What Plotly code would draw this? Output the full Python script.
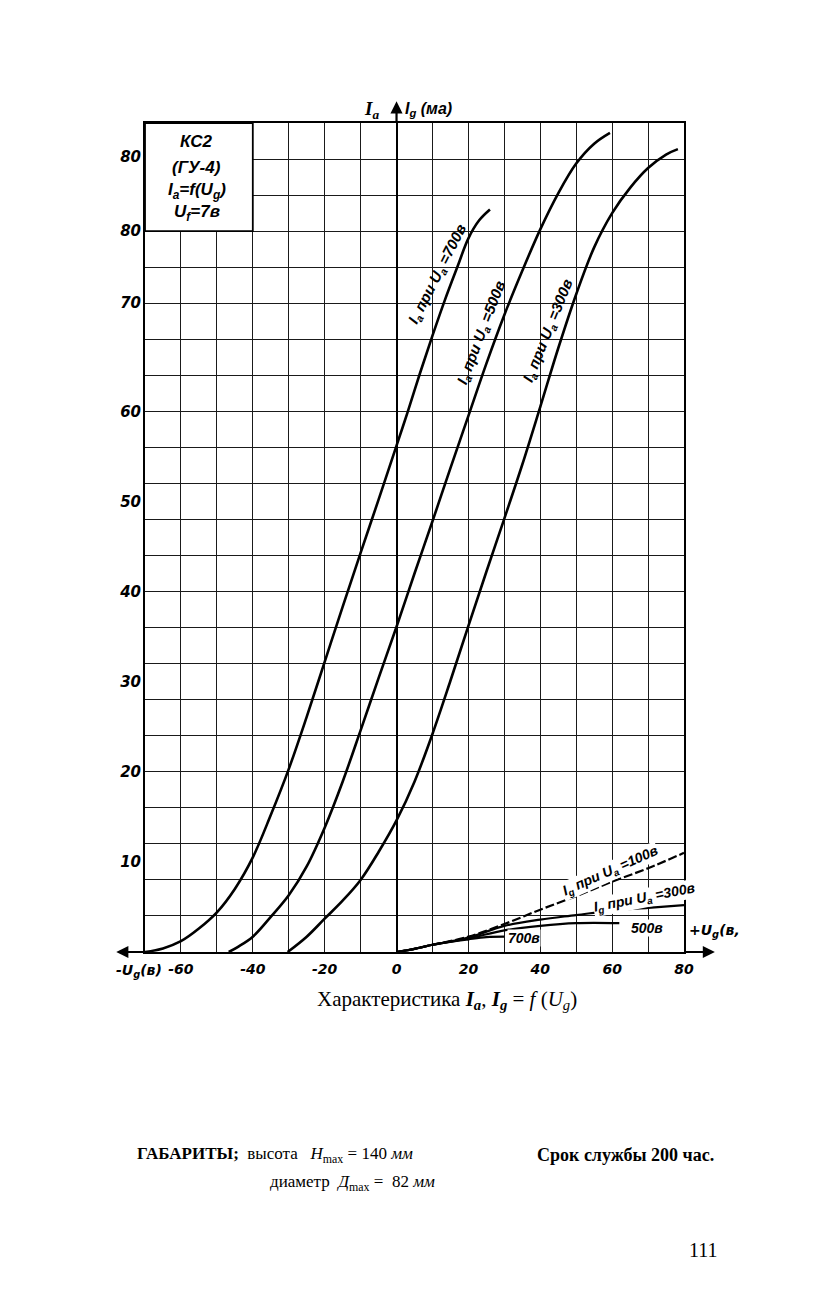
import plotly.graph_objects as go

# ---------------- data ----------------
ia700_x = [-70, -65, -60, -55, -50, -45, -40, -35, -30, -25, -20, -15, -10, -5, 0,
           3, 6.5, 10, 13.5, 17, 20, 23, 26]
ia700_y = [0, 0.4, 1.2, 2.6, 4.4, 7.0, 10.5, 15.2, 20.3, 26.1, 32.2, 38.3, 44.3, 50.2, 56.2,
           59.8, 64.2, 68.4, 72.4, 76.1, 79.2, 81.2, 82.4]

ia500_x = [-46.7, -44, -40, -35, -30, -25, -20, -15, -10, -5, 0, 5, 10, 15, 20,
           25, 30, 35, 40, 45, 50, 55, 59.4]
ia500_y = [0, 0.6, 1.7, 3.9, 6.3, 9.5, 13.8, 18.9, 24.6, 30.4, 36.1, 42.0, 47.8, 53.7, 59.5,
           65.3, 70.7, 75.6, 80.2, 84.2, 87.5, 89.7, 90.9]

ia300_x = [-30.3, -25, -20, -15, -10, -5, 0, 5, 10, 15, 20, 25, 30, 35, 40,
           45, 50, 55, 60, 65, 70, 75, 78.3]
ia300_y = [0, 1.7, 3.7, 5.7, 8.0, 11.1, 14.6, 18.9, 24.2, 30.1, 36.2, 42.2, 48.1, 54.1, 60.5,
           67.0, 73.0, 78.2, 82.0, 84.8, 87.0, 88.5, 89.1]

ig100_x = [0, 5, 10, 20, 30, 40, 50, 60, 70, 80]
ig100_y = [0, 0.35, 0.8, 1.7, 3.1, 4.7, 6.2, 7.8, 9.3, 11]
ig300_x = [0, 5, 10, 20, 30, 40, 50, 60, 70, 80]
ig300_y = [0, 0.35, 0.8, 1.6, 2.9, 3.6, 4.1, 4.6, 4.9, 5.2]
ig500_x = [0, 5, 10, 20, 30, 40, 50, 62]
ig500_y = [0, 0.35, 0.8, 1.5, 2.4, 2.9, 3.2, 3.2]
ig700_x = [0, 5, 10, 20, 25, 30]
ig700_y = [0, 0.35, 0.8, 1.4, 1.65, 1.7]

x_tickvals = [-60, -40, -20, 0, 20, 40, 60, 80]
x_ticktext = ["-60", "-40", "-20", "0", "20", "40", "60", "80"]
y_tickvals = [88.2, 80, 72, 60, 50, 40, 30, 20, 10]
y_ticktext = ["80", "80", "70", "60", "50", "40", "30", "20", "10"]

X_RANGE = [-70, 80]
Y_RANGE = [0, 92]

SANS = "DejaVu Sans"
SERIF = "Liberation Serif"
BI = dict(family=SANS, size=15, color="black", weight="bold", style="italic")

fig = go.Figure()

curve = dict(color="black", width=2.6, shape="spline", smoothing=1.0)
for xs, ys in [(ia700_x, ia700_y), (ia500_x, ia500_y), (ia300_x, ia300_y)]:
    fig.add_trace(go.Scatter(x=xs, y=ys, mode="lines", line=curve, hoverinfo="skip"))

fig.add_trace(go.Scatter(x=ig100_x, y=ig100_y, mode="lines",
                         line=dict(color="black", width=2.2, dash="9px,3px", shape="spline"),
                         hoverinfo="skip"))
for xs, ys in [(ig300_x, ig300_y), (ig500_x, ig500_y), (ig700_x, ig700_y)]:
    fig.add_trace(go.Scatter(x=xs, y=ys, mode="lines",
                             line=dict(color="black", width=2.2, shape="spline"),
                             hoverinfo="skip"))

# dummy trace carrying the labelled overlay axes
fig.add_trace(go.Scatter(x=[None], y=[None], xaxis="x2", yaxis="y2",
                         showlegend=False, hoverinfo="skip"))

grid = dict(showgrid=True, gridcolor="#1a1a1a", gridwidth=1.3)
fig.update_layout(
    width=827, height=1291,
    margin=dict(l=137, r=151, t=115, b=347),
    paper_bgcolor="white", plot_bgcolor="white",
    showlegend=False,
    xaxis=dict(range=X_RANGE, tickmode="linear", tick0=0, dtick=10, showticklabels=False,
               ticks="", zeroline=True, zerolinecolor="black", zerolinewidth=2.4,
               showline=True, linecolor="black", linewidth=2, mirror=True, **grid),
    yaxis=dict(range=Y_RANGE, tickmode="linear", tick0=0, dtick=4, showticklabels=False,
               ticks="", zeroline=False,
               showline=True, linecolor="black", linewidth=2, mirror=True, **grid),
    xaxis2=dict(range=X_RANGE, overlaying="x", anchor="y2", side="bottom",
                tickmode="array", tickvals=x_tickvals, ticktext=x_ticktext,
                showgrid=False, zeroline=False, showline=False, ticks="",
                ticklabelstandoff=7, tickfont=dict(BI, size=14)),
    yaxis2=dict(range=Y_RANGE, overlaying="y", anchor="x2", side="left",
                tickmode="array", tickvals=y_tickvals, ticktext=y_ticktext,
                showgrid=False, zeroline=False, showline=False, ticks="",
                ticklabelstandoff=3, tickfont=BI),
)

# inset title box
fig.add_shape(type="rect", x0=-70, x1=-40, y0=80, y1=92, xref="x", yref="y",
              fillcolor="white", line=dict(color="black", width=1.8), layer="above")
inset_font = dict(family="Liberation Sans", size=17, color="black", weight="bold", style="italic")
inset = [("КС2", 89.9), ("(ГУ-4)", 87.1),
         ("I<sub>a</sub>=f(U<sub>g</sub>)", 84.4), ("U<sub>f</sub>=7в", 82.0)]
for txt, yy in inset:
    fig.add_annotation(x=-55.6, y=yy, text=txt, showarrow=False, font=inset_font,
                       xanchor="center", yanchor="middle")

# axis arrows
arr = dict(showarrow=True, arrowhead=2, arrowsize=1.1, arrowwidth=2.2, arrowcolor="black",
           text="", axref="x", ayref="y", xref="x", yref="y")
fig.add_annotation(x=-78, y=0, ax=-70, ay=0, **arr)
fig.add_annotation(x=88.6, y=0, ax=80, ay=0, **arr)
fig.add_annotation(x=0, y=94.4, ax=0, ay=92, **arr)

# axis names (paper coordinates relative to the plot area)
fig.add_annotation(xref="paper", yref="paper", x=0.421, y=1.0157,
                   text="<i>I<sub>a</sub></i>", showarrow=False,
                   font=dict(family=SERIF, size=19, color="black", weight="bold"),
                   xanchor="center", yanchor="middle")
fig.add_annotation(xref="paper", yref="paper", x=0.478, y=1.0157,
                   text="<i>I<sub>g</sub> (ма)</i>", showarrow=False,
                   font=dict(family="Liberation Sans", size=16, color="black", weight="bold"),
                   xanchor="left", yanchor="middle")
fig.add_annotation(xref="paper", yref="paper", x=0.036, y=-0.0225,
                   text="-<i>U<sub>g</sub></i>(в)", showarrow=False,
                   font=dict(BI, size=14), xanchor="right", yanchor="middle")
fig.add_annotation(xref="paper", yref="paper", x=1.008, y=0.025,
                   text="+<i>U<sub>g</sub></i>(в,", showarrow=False,
                   font=dict(BI, size=14), xanchor="left", yanchor="middle",
                   bgcolor="white", borderpad=0)

# curve labels
lab = dict(family="Liberation Sans", size=15, color="black", weight="bold", style="italic")
for txt, xx, yy, ang in [
    ("I<sub>a</sub> при U<sub>a</sub> =700в", 11.4, 75.2, -63),
    ("I<sub>a</sub> при U<sub>a</sub> =500в", 23.6, 68.8, -69),
    ("I<sub>a</sub> при U<sub>a</sub> =300в", 42.2, 69.0, -68),
]:
    fig.add_annotation(x=xx, y=yy, text=txt, textangle=ang, showarrow=False, font=lab,
                       xanchor="center", yanchor="middle")
for txt, xx, yy, ang in [
    ("I<sub>g</sub> при U<sub>a</sub> =100в", 59.6, 9.0, -24),
    ("I<sub>g</sub> при U<sub>a</sub> =300в", 69.0, 6.0, -11),
]:
    fig.add_annotation(x=xx, y=yy, text=txt, textangle=ang, showarrow=False,
                       font=dict(lab, size=14),
                       xanchor="center", yanchor="middle", bgcolor="white", borderpad=0)
fig.add_annotation(x=69.6, y=2.7, text="500в", showarrow=False, font=dict(lab, size=14),
                   bgcolor="white", borderpad=0)
fig.add_annotation(x=35.6, y=1.5, text="700в", showarrow=False, font=dict(lab, size=14),
                   bgcolor="white", borderpad=0)

# captions below the chart
fig.add_annotation(xref="paper", yref="paper", x=0.560, y=-0.058,
                   text="Характеристика <i><b>I<sub>a</sub></b></i>, <i><b>I<sub>g</sub></b></i> = <i>f</i> (<i>U<sub>g</sub></i>)",
                   showarrow=False, font=dict(family=SERIF, size=21, color="black"),
                   xanchor="center", yanchor="middle")
fig.add_annotation(xref="paper", yref="paper", x=-0.0186, y=-0.245,
                   text="<b>ГАБАРИТЫ;</b>  высота   <i>H</i><sub>max</sub> = 140 <i>мм</i>",
                   showarrow=False, font=dict(family=SERIF, size=17, color="black"),
                   xanchor="left", yanchor="middle")
fig.add_annotation(xref="paper", yref="paper", x=0.228, y=-0.279,
                   text="диаметр  <i>Д</i><sub>max</sub> =  82 <i>мм</i>",
                   showarrow=False, font=dict(family=SERIF, size=17, color="black"),
                   xanchor="left", yanchor="middle")
fig.add_annotation(xref="paper", yref="paper", x=0.7236, y=-0.245,
                   text="<b>Срок службы 200 час.</b>",
                   showarrow=False, font=dict(family=SERIF, size=18, color="black"),
                   xanchor="left", yanchor="middle")
fig.add_annotation(xref="paper", yref="paper", x=1.0668, y=-0.359, text="111",
                   showarrow=False, font=dict(family=SERIF, size=20, color="black"),
                   xanchor="right", yanchor="middle")

fig.write_html("out.html")
